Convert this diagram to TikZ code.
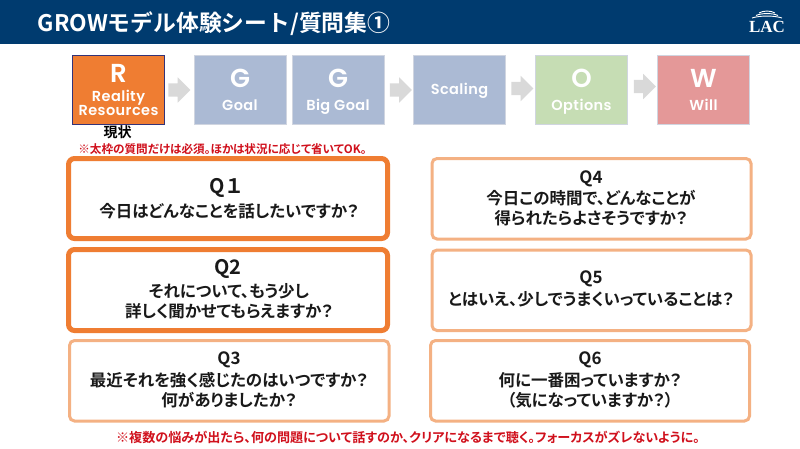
\documentclass[tikz,border=0pt]{standalone}
\usepackage{fontspec}
\usetikzlibrary{shapes.arrows}
\setmainfont{Noto Sans CJK JP}[BoldFont={Noto Sans CJK JP Bold}]
\newfontfamily\palt{Noto Sans CJK JP}[BoldFont={Noto Sans CJK JP Bold},RawFeature={+palt}]
\newfontfamily\latinround{Poppins}[BoldFont={Poppins SemiBold},LetterSpace=3]
\newfontfamily\logofont{Liberation Serif}
\definecolor{navy}{HTML}{003B6F}
\definecolor{orangeR}{HTML}{EF7D32}
\definecolor{orangeL}{HTML}{F4B183}
\definecolor{blueB}{HTML}{ABBAD4}
\definecolor{greenB}{HTML}{C6DDB4}
\definecolor{redB}{HTML}{E49898}
\definecolor{redT}{HTML}{D0101C}
\definecolor{arrowG}{HTML}{D9D9D9}
\definecolor{edgeG}{HTML}{D0D5E0}
\tikzset{
  x=1pt,y=-1pt,
  stage/.style={draw=edgeG,line width=1pt,minimum width=92pt,minimum height=69pt,inner sep=0pt},
  big/.style={text=white,inner sep=0pt,font=\latinround\bfseries\fontsize{26}{26}\selectfont},
  small/.style={text=white,inner sep=0pt,align=center,font=\latinround\bfseries\fontsize{14.5}{14.5}\selectfont},
  smallb/.style={small,anchor=base},
  flow/.style={single arrow,fill=arrowG,draw=none,minimum height=22pt,single arrow head extend=6pt,single arrow head indent=0pt,inner sep=0pt},
  qbox/.style={draw=orangeL,line width=3pt,rounded corners=5pt,fill=white,inner sep=0pt},
  qmain/.style={draw=orangeR,line width=5pt,rounded corners=6pt,fill=white,inner sep=0pt},
  qtext/.style={inner sep=0pt,align=center,text=black!90,font=\palt\bfseries\fontsize{16.5}{20.3}\selectfont},
  qheadA/.style={inner sep=0pt,text=black!90,font=\bfseries\fontsize{20}{20}\selectfont},
  qheadB/.style={inner sep=0pt,text=black!90,font=\bfseries\fontsize{17}{17}\selectfont},
  note/.style={inner sep=0pt,text=redT},
}
\begin{document}
\begin{tikzpicture}
\useasboundingbox (0,0) rectangle (800,448);
\fill[white] (0,0) rectangle (800,448);
\fill[navy] (0,0) rectangle (800,44);
\node[anchor=west,inner sep=0pt,text=white,font=\bfseries\fontsize{22.8}{24}\selectfont] (title) at (37.5,24) {GROWモデル体験シート/質問集①};
% logo
\node[inner sep=0pt,text=white,font=\logofont\bfseries\fontsize{17}{17}\selectfont] (logo) at (767,26.5) {LAC};
\foreach \yy/\w in {11/8,13.5/11,16/15}{
  \draw[white,line width=0.9pt] (767-\w,\yy+2) .. controls (767-\w/2,\yy-0.6) and (767+\w/2,\yy-0.6) .. (767+\w,\yy+2);
}
% stages
\node[stage,fill=orangeR,draw=black!55!blue!60!gray] (r) at (118.5,90) {};
\node[stage,fill=blueB] (g1) at (240,90) {};
\node[stage,fill=blueB] (g2) at (338,90) {};
\node[stage,fill=blueB] (sc) at (459.5,90) {};
\node[stage,fill=greenB] (o) at (581.5,90) {};
\node[stage,fill=redB] (w) at (703.5,90) {};
\node[big] (rL) at (118.5,73) {R};
\node[small] (rT) at (118.5,103) {Reality\\Resources};
\node[big] (g1L) at (240,78) {G};
\node[smallb] (g1T) at (240,110) {Goal};
\node[big] (g2L) at (338,78) {G};
\node[smallb] (g2T) at (338,110) {Big Goal};
\node[smallb] (scT) at (459.5,94) {Scaling};
\node[big] (oL) at (581.5,78) {O};
\node[smallb] (oT) at (581.5,110) {Options};
\node[big] (wL) at (703.5,78) {W};
\node[smallb] (wT) at (703.5,110) {Will};
% arrows
\node[flow] (a1) at (176,90) {\rule{0pt}{13pt}};
\node[flow] (a2) at (397.5,90) {\rule{0pt}{13pt}};
\node[flow] (a3) at (519,88.5) {\rule{0pt}{13pt}};
\node[flow] (a4) at (641.5,86.5) {\rule{0pt}{13pt}};
% captions
\node[inner sep=0pt,font=\bfseries\fontsize{14}{14}\selectfont] (gen) at (117.5,132.5) {現状};
\node[note,font=\palt\bfseries\fontsize{11.6}{12}\selectfont] (n1) at (222.5,149) {※太枠の質問だけは必須。ほかは状況に応じて省いてOK。};
% question boxes
\draw[qmain] (68.5,158.5) rectangle (387.5,238.5);
\draw[qmain] (68.5,249.5) rectangle (387.5,330.5);
\draw[qbox] (69.5,340.5) rectangle (389,421);
\draw[qbox] (432,158.5) rectangle (751,239);
\draw[qbox] (432,250) rectangle (751,330.5);
\draw[qbox] (430.5,340.5) rectangle (749.5,421);
\node[qheadA] (q1h) at (227,188) {Q１};
\node[qtext] (q1) at (229,211) {今日はどんなことを話したいですか？};
\node[qheadA] (q2h) at (228,269) {Q2};
\node[qtext] (q2) at (229,301.5) {それについて、もう少し\\詳しく聞かせてもらえますか？};
\node[qheadB] (q3h) at (229,360) {Q3};
\node[qtext] (q3) at (229,390) {最近それを強く感じたのはいつですか？\\何がありましたか？};
\node[qheadB] (q4h) at (591,179) {Q4};
\node[qtext] (q4) at (591,208) {今日この時間で、どんなことが\\得られたらよさそうですか？};
\node[qheadB] (q5h) at (591,279) {Q5};
\node[qtext] (q5) at (591,299) {とはいえ、少しでうまくいっていることは？};
\node[qheadB] (q6h) at (590,360) {Q6};
\node[qtext] (q6) at (590,390) {何に一番困っていますか？\\（気になっていますか？）};
\node[note,font=\palt\bfseries\fontsize{13.1}{13}\selectfont] (n2) at (408,437) {※複数の悩みが出たら、何の問題について話すのか、クリアになるまで聴く。フォーカスがズレないように。};
\end{tikzpicture}
\end{document}
